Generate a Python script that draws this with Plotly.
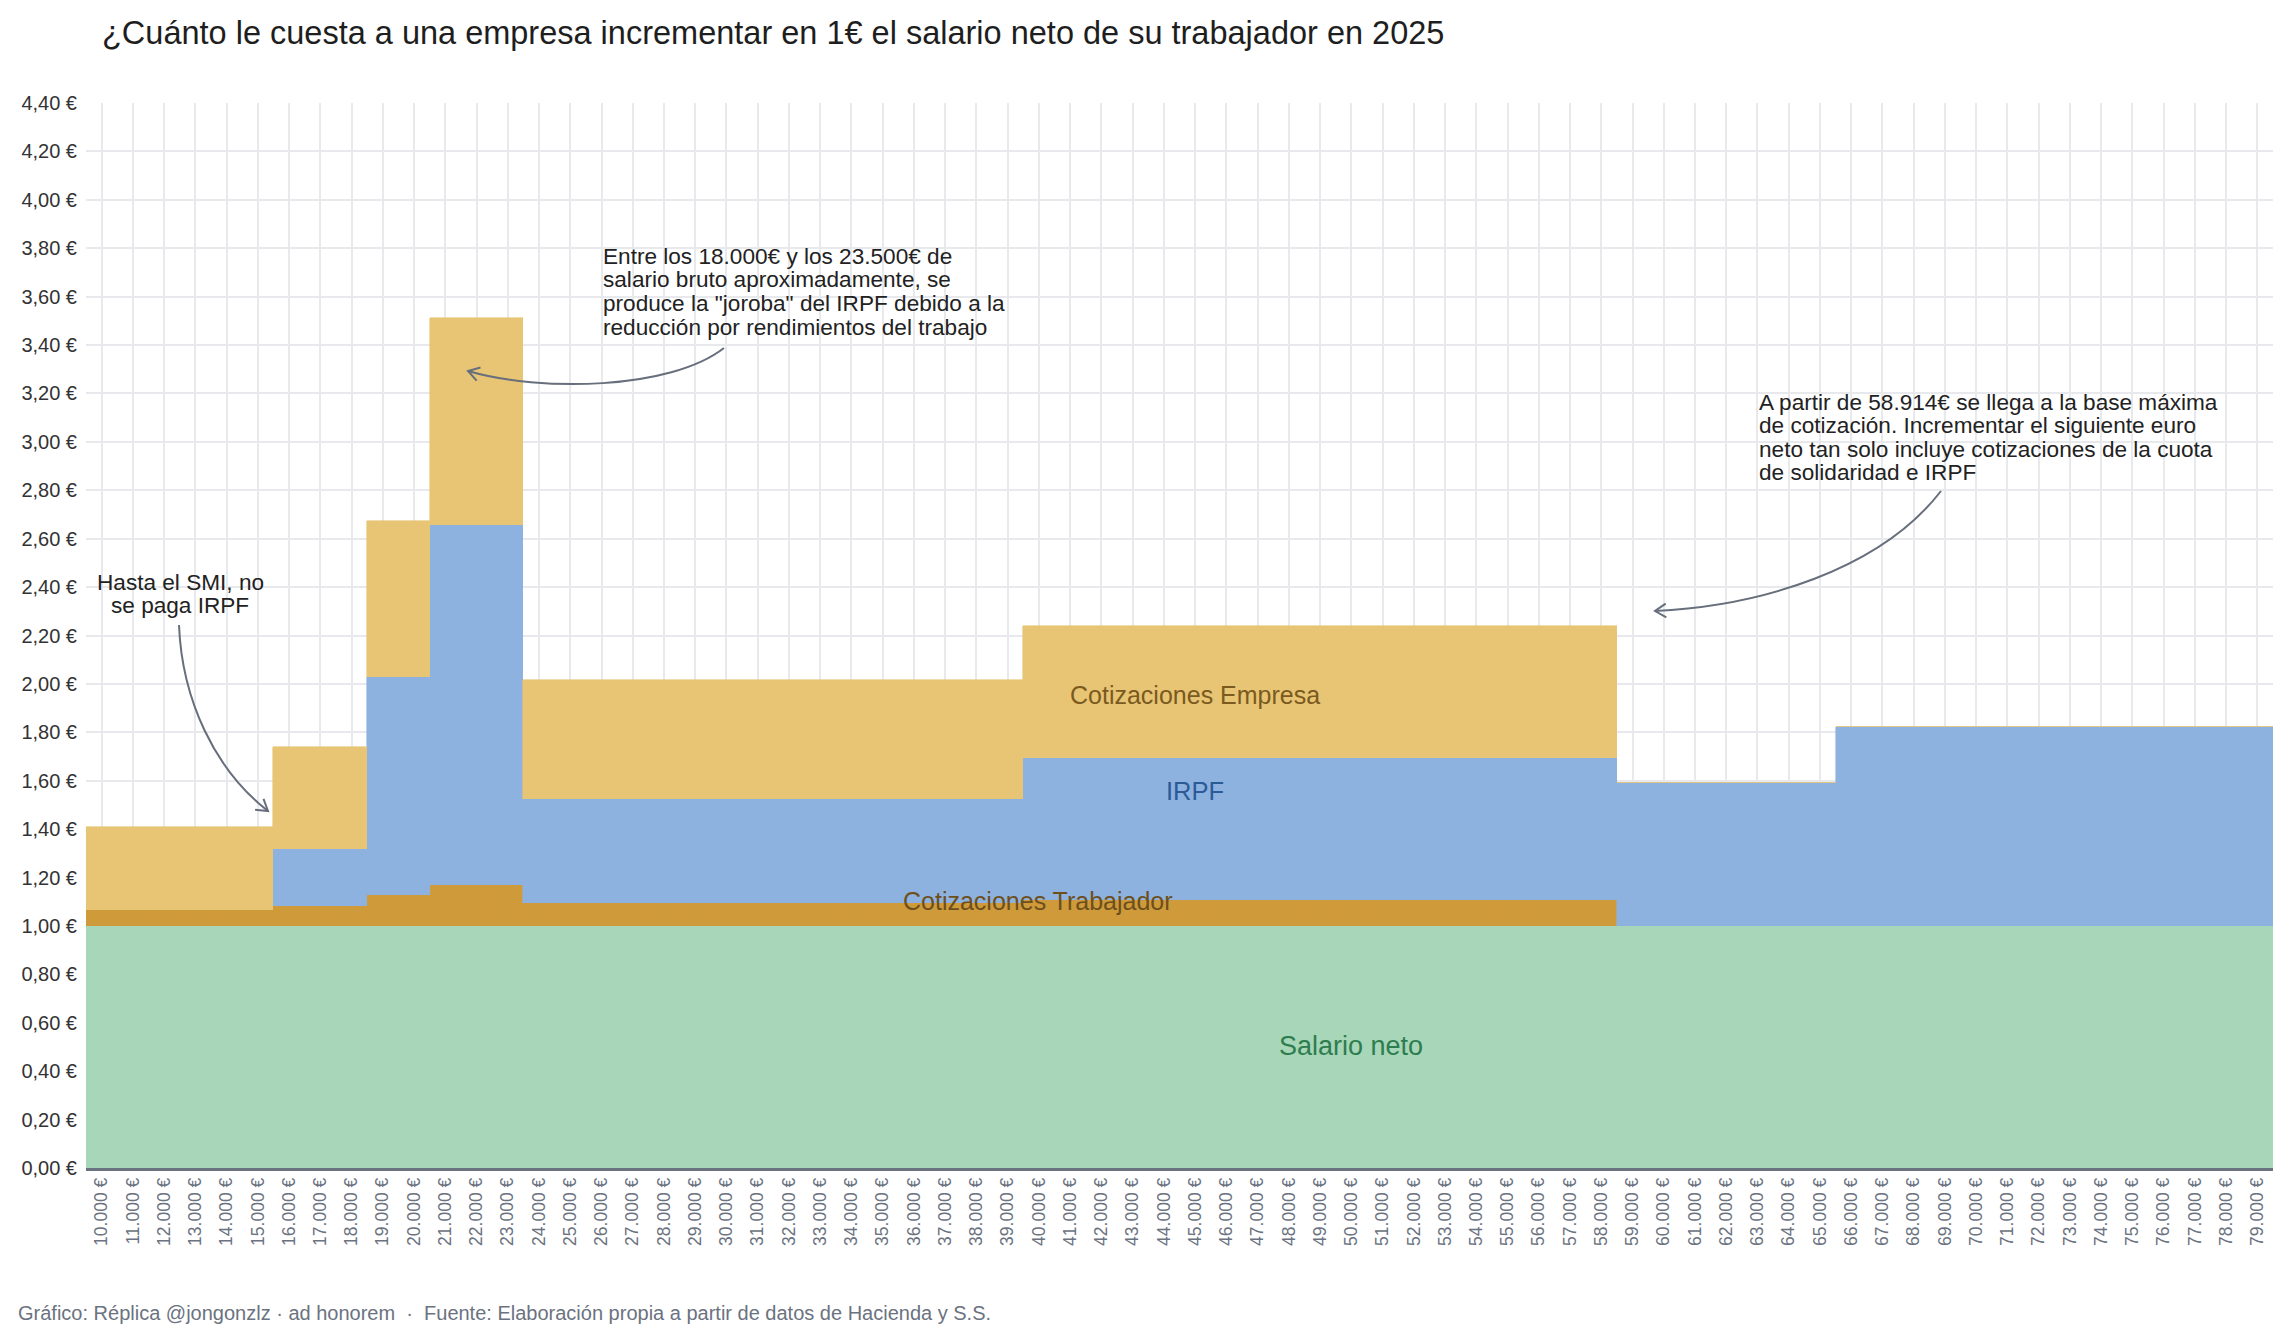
import math
import plotly.graph_objects as go

# ---------------- DATA ----------------
salarios = [
    10000, 11000, 12000, 13000, 14000, 15000, 16000, 17000, 18000, 19000,
    20000, 21000, 22000, 23000, 24000, 25000, 26000, 27000, 28000, 29000,
    30000, 31000, 32000, 33000, 34000, 35000, 36000, 37000, 38000, 39000,
    40000, 41000, 42000, 43000, 44000, 45000, 46000, 47000, 48000, 49000,
    50000, 51000, 52000, 53000, 54000, 55000, 56000, 57000, 58000, 59000,
    60000, 61000, 62000, 63000, 64000, 65000, 66000, 67000, 68000, 69000,
    70000, 71000, 72000, 73000, 74000, 75000, 76000, 77000, 78000, 79000,
]
categorias = [f"{s:,}".replace(",", ".") + " €" for s in salarios]

salario_neto = [
    1.00, 1.00, 1.00, 1.00, 1.00, 1.00, 1.00, 1.00, 1.00, 1.00,
    1.00, 1.00, 1.00, 1.00, 1.00, 1.00, 1.00, 1.00, 1.00, 1.00,
    1.00, 1.00, 1.00, 1.00, 1.00, 1.00, 1.00, 1.00, 1.00, 1.00,
    1.00, 1.00, 1.00, 1.00, 1.00, 1.00, 1.00, 1.00, 1.00, 1.00,
    1.00, 1.00, 1.00, 1.00, 1.00, 1.00, 1.00, 1.00, 1.00, 1.00,
    1.00, 1.00, 1.00, 1.00, 1.00, 1.00, 1.00, 1.00, 1.00, 1.00,
    1.00, 1.00, 1.00, 1.00, 1.00, 1.00, 1.00, 1.00, 1.00, 1.00,
]
cotizaciones_trabajador = [
    0.066, 0.066, 0.066, 0.066, 0.066, 0.066,           # 10k-15k
    0.082, 0.082, 0.082,                                 # 16k-18k
    0.128, 0.128,                                        # 19k-20k
    0.169, 0.169, 0.169,                                 # 21k-23k
    0.094, 0.094, 0.094, 0.094, 0.094, 0.094, 0.094, 0.094,
    0.094, 0.094, 0.094, 0.094, 0.094, 0.094, 0.094, 0.094,   # 24k-39k
    0.106, 0.106, 0.106, 0.106, 0.106, 0.106, 0.106, 0.106, 0.106, 0.106,
    0.106, 0.106, 0.106, 0.106, 0.106, 0.106, 0.106, 0.106, 0.106,  # 40k-58k
    0.0, 0.0, 0.0, 0.0, 0.0, 0.0, 0.0,                   # 59k-65k
    0.0, 0.0, 0.0, 0.0, 0.0, 0.0, 0.0, 0.0, 0.0, 0.0, 0.0, 0.0, 0.0, 0.0,  # 66k-79k
]
irpf = [
    0.0, 0.0, 0.0, 0.0, 0.0, 0.0,
    0.238, 0.238, 0.238,
    0.902, 0.902,
    1.486, 1.486, 1.486,
    0.431, 0.431, 0.431, 0.431, 0.431, 0.431, 0.431, 0.431,
    0.431, 0.431, 0.431, 0.431, 0.431, 0.431, 0.431, 0.431,
    0.589, 0.589, 0.589, 0.589, 0.589, 0.589, 0.589, 0.589, 0.589, 0.589,
    0.589, 0.589, 0.589, 0.589, 0.589, 0.589, 0.589, 0.589, 0.589,
    0.59, 0.59, 0.59, 0.59, 0.59, 0.59, 0.59,
    0.82, 0.82, 0.82, 0.82, 0.82, 0.82, 0.82, 0.82, 0.82, 0.82, 0.82, 0.82, 0.82, 0.82,
]
cotizaciones_empresa = [
    0.344, 0.344, 0.344, 0.344, 0.344, 0.344,
    0.42, 0.42, 0.42,
    0.645, 0.645,
    0.855, 0.855, 0.855,
    0.49, 0.49, 0.49, 0.49, 0.49, 0.49, 0.49, 0.49,
    0.49, 0.49, 0.49, 0.49, 0.49, 0.49, 0.49, 0.49,
    0.545, 0.545, 0.545, 0.545, 0.545, 0.545, 0.545, 0.545, 0.545, 0.545,
    0.545, 0.545, 0.545, 0.545, 0.545, 0.545, 0.545, 0.545, 0.545,
    0.0, 0.0, 0.0, 0.0, 0.0, 0.0, 0.0,
    0.0, 0.0, 0.0, 0.0, 0.0, 0.0, 0.0, 0.0, 0.0, 0.0, 0.0, 0.0, 0.0, 0.0,
]

y_tick_vals = [0.0, 0.2, 0.4, 0.6, 0.8, 1.0, 1.2, 1.4, 1.6, 1.8, 2.0, 2.2,
               2.4, 2.6, 2.8, 3.0, 3.2, 3.4, 3.6, 3.8, 4.0, 4.2, 4.4]
y_tick_text = ["0,00 €", "0,20 €", "0,40 €", "0,60 €", "0,80 €", "1,00 €",
               "1,20 €", "1,40 €", "1,60 €", "1,80 €", "2,00 €", "2,20 €",
               "2,40 €", "2,60 €", "2,80 €", "3,00 €", "3,20 €", "3,40 €",
               "3,60 €", "3,80 €", "4,00 €", "4,20 €", "4,40 €"]

series = [
    ("Salario neto", salario_neto, "#A8D6B9"),
    ("Cotizaciones Trabajador", cotizaciones_trabajador, "#CF9A3A"),
    ("IRPF", irpf, "#8DB2E0"),
    ("Cotizaciones Empresa", cotizaciones_empresa, "#E7C574"),
]

# ---------------- LAYOUT GEOMETRY ----------------
FIG_W, FIG_H = 2290, 1340
M_L, M_R, M_T, M_B = 86, 17, 103, 172
PX_L = M_L
PX_R = FIG_W - M_R
PX_T = M_T
PX_B = FIG_H - M_B
FONT = "Liberation Sans, Arial, Helvetica, sans-serif"


def xp(px):
    return (px - PX_L) / (PX_R - PX_L)


def yp(py):
    return (PX_B - py) / (PX_B - PX_T)


fig = go.Figure()
for name, vals, color in series:
    fig.add_trace(go.Bar(
        x=categorias, y=vals, name=name,
        marker=dict(color=color, line=dict(color=color, width=0.6)),
        hoverinfo="x+y+name",
    ))

annotations = []

# Title
annotations.append(dict(
    text="¿Cuánto le cuesta a una empresa incrementar en 1€ el salario neto de su trabajador en 2025",
    xref="paper", yref="paper", x=xp(100), y=yp(33), xanchor="left", yanchor="middle",
    showarrow=False, font=dict(family=FONT, size=32.5, color="#1E1E1E"),
))

# Footer
annotations.append(dict(
    text="Gráfico: Réplica @jongonzlz · ad honorem \u00a0·\u00a0 Fuente: Elaboración propia a partir de datos de Hacienda y S.S.",
    xref="paper", yref="paper", x=xp(16), y=yp(1313), xanchor="left", yanchor="middle",
    showarrow=False, font=dict(family=FONT, size=20, color="#6B7280"),
))

# Series labels
labels = [
    ("Cotizaciones Empresa", 1195, 695, "#7A5A1E", 25),
    ("IRPF", 1195, 791, "#2B5A95", 25.5),
    ("Cotizaciones Trabajador", 1038, 901, "#6E4F1C", 25),
    ("Salario neto", 1351, 1046, "#2E7D4F", 27),
]
for txt, px, py, col, sz in labels:
    annotations.append(dict(
        text=txt, xref="paper", yref="paper", x=xp(px), y=yp(py),
        xanchor="center", yanchor="middle", showarrow=False,
        font=dict(family=FONT, size=sz, color=col),
    ))

# Notes (each line placed separately to keep tight line spacing)
note_font = dict(family=FONT, size=22.6, color="#222222")
note1 = ["Hasta el SMI, no", "se paga IRPF"]
for i, line in enumerate(note1):
    annotations.append(dict(text=line, xref="paper", yref="paper", x=xp(180), y=yp(582 + 23.5 * i),
                            xanchor="center", yanchor="middle", showarrow=False, font=note_font))
note2 = ["Entre los 18.000€ y los 23.500€ de",
         "salario bruto aproximadamente, se",
         "produce la \"joroba\" del IRPF debido a la",
         "reducción por rendimientos del trabajo"]
for i, line in enumerate(note2):
    annotations.append(dict(text=line, xref="paper", yref="paper", x=xp(601), y=yp(256 + 23.8 * i),
                            xanchor="left", yanchor="middle", showarrow=False, font=note_font))
note3 = ["A partir de 58.914€ se llega a la base máxima",
         "de cotización. Incrementar el siguiente euro",
         "neto tan solo incluye cotizaciones de la cuota",
         "de solidaridad e IRPF"]
for i, line in enumerate(note3):
    annotations.append(dict(text=line, xref="paper", yref="paper", x=xp(1757), y=yp(402 + 23.5 * i),
                            xanchor="left", yanchor="middle", showarrow=False, font=note_font))

# Curved arrows (pixel control points -> paper coords)
ARROW_COLOR = "#676E7C"


def curve_shapes(p0, p1, p2, p3, head_len=13, head_ang=32):
    path = "M {} {} C {} {}, {} {}, {} {}".format(
        xp(p0[0]), yp(p0[1]), xp(p1[0]), yp(p1[1]),
        xp(p2[0]), yp(p2[1]), xp(p3[0]), yp(p3[1]))
    dxp, dyp = p3[0] - p2[0], p3[1] - p2[1]
    n = math.hypot(dxp, dyp)
    ux, uy = dxp / n, dyp / n
    pts = []
    for s in (1, -1):
        a = math.radians(head_ang) * s
        rx = ux * math.cos(a) - uy * math.sin(a)
        ry = ux * math.sin(a) + uy * math.cos(a)
        pts.append((p3[0] - head_len * rx, p3[1] - head_len * ry))
    head = "M {} {} L {} {} L {} {}".format(
        xp(pts[0][0]), yp(pts[0][1]), xp(p3[0]), yp(p3[1]), xp(pts[1][0]), yp(pts[1][1]))
    line = dict(color=ARROW_COLOR, width=2)
    return [dict(type="path", xref="paper", yref="paper", path=path, line=line, layer="above"),
            dict(type="path", xref="paper", yref="paper", path=head, line=line, layer="above")]


shapes = []
shapes += curve_shapes((179, 625), (182, 700), (215, 770), (268, 811))
shapes += curve_shapes((724, 348), (670, 390), (540, 392), (468, 371))
shapes += curve_shapes((1941, 491), (1880, 570), (1760, 606), (1655, 611))

fig.update_layout(
    width=FIG_W, height=FIG_H,
    margin=dict(l=M_L, r=M_R, t=M_T, b=M_B, pad=0),
    barmode="stack", bargap=0, bargroupgap=0,
    showlegend=False,
    paper_bgcolor="white", plot_bgcolor="white",
    font=dict(family=FONT, color="#333333"),
    annotations=annotations,
    shapes=shapes,
    xaxis=dict(
        type="category", tickangle=-90,
        tickfont=dict(family=FONT, size=17.5, color="#6B7280"),
        showgrid=True, gridcolor="#E7E9ED", gridwidth=1.5,
        showline=True, linecolor="#6B7280", linewidth=2.5,
        ticks="", zeroline=False, fixedrange=True,
    ),
    yaxis=dict(
        range=[0, 4.4], tickvals=y_tick_vals, ticktext=y_tick_text,
        tickfont=dict(family=FONT, size=20, color="#333333"),
        showgrid=True, gridcolor="#E7E9ED", gridwidth=1.5,
        zeroline=False, showline=False, ticks="", ticklabelstandoff=8,
        fixedrange=True,
    ),
)

fig.write_html("out.html")
